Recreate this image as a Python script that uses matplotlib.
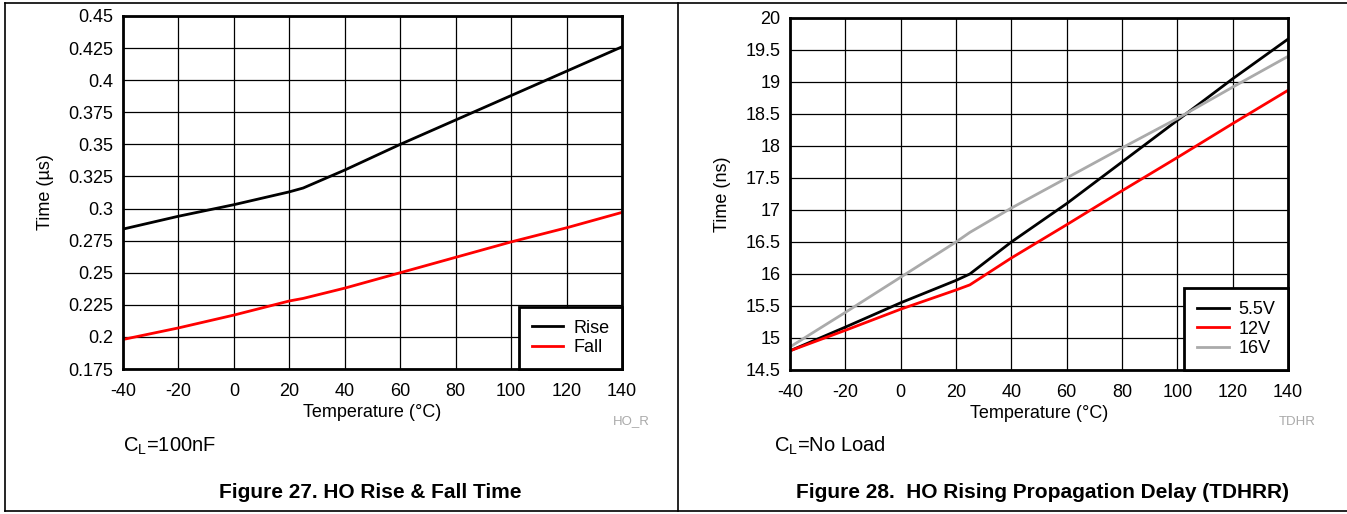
import matplotlib
matplotlib.use("Agg")
import matplotlib.pyplot as plt
from matplotlib.lines import Line2D

plt.rcParams['font.family'] = ['Liberation Sans', 'DejaVu Sans']

# ---- data: Figure 27 (rise / fall time, us) ----
temp = [-40, -20, 0, 20, 25, 40, 60, 80, 100, 120, 140]
rise = [0.284, 0.294, 0.303, 0.313, 0.316, 0.330, 0.350, 0.369, 0.388, 0.407, 0.426]
fall = [0.198, 0.207, 0.217, 0.228, 0.230, 0.238, 0.250, 0.262, 0.274, 0.285, 0.297]

# ---- data: Figure 28 (propagation delay, ns) ----
v55 = [14.80, 15.17, 15.55, 15.90, 16.00, 16.50, 17.10, 17.75, 18.40, 19.05, 19.67]
v12 = [14.80, 15.12, 15.45, 15.75, 15.83, 16.25, 16.77, 17.30, 17.82, 18.35, 18.87]
v16 = [14.86, 15.40, 15.95, 16.50, 16.65, 17.03, 17.50, 17.97, 18.43, 18.92, 19.40]

xticks = [-40, -20, 0, 20, 40, 60, 80, 100, 120, 140]
yticks_l = [0.175, 0.2, 0.225, 0.25, 0.275, 0.3, 0.325, 0.35, 0.375, 0.4, 0.425, 0.45]
yticks_r = [14.5, 15, 15.5, 16, 16.5, 17, 17.5, 18, 18.5, 19, 19.5, 20]

W, H = 1347, 514
FS = 13
fig = plt.figure(figsize=(W / 100, H / 100), dpi=100)


def add_axes(x0, y0, x1, y1):
    return fig.add_axes([x0 / W, 1 - y1 / H, (x1 - x0) / W, (y1 - y0) / H])


def style(ax, yticks, ylabel):
    ax.set_xlim(-40, 140)
    ax.set_ylim(yticks[0], yticks[-1])
    ax.set_xticks(xticks)
    ax.set_xticklabels([str(t) for t in xticks])
    ax.set_yticks(yticks)
    ax.set_yticklabels([f"{t:g}" for t in yticks])
    ax.tick_params(length=0, labelsize=FS)
    ax.tick_params(axis='x', pad=10)
    ax.tick_params(axis='y', pad=7)
    ax.grid(True, color='black', linewidth=0.9)
    ax.set_axisbelow(True)
    for s in ax.spines.values():
        s.set_linewidth(2)
    ax.set_xlabel("Temperature (°C)", fontsize=FS, labelpad=3)
    ax.set_ylabel(ylabel, fontsize=FS, labelpad=10)


def legend(ax):
    leg = ax.legend(loc='lower right', fontsize=FS, fancybox=False, edgecolor='black',
                    framealpha=1, borderaxespad=0, handlelength=1.75, handletextpad=0.55,
                    borderpad=0.7, labelspacing=0.15)
    leg.get_frame().set_linewidth(2)


# ---- left panel ----
ax1 = add_axes(123, 16, 622, 369)
ax1.plot(temp, rise, color='black', lw=2, label='Rise')
ax1.plot(temp, fall, color='#ff0000', lw=2, label='Fall')
style(ax1, yticks_l, "Time (µs)")
legend(ax1)

# ---- right panel ----
ax2 = add_axes(790, 18, 1288, 370)
ax2.plot(temp, v55, color='black', lw=2, label='5.5V')
ax2.plot(temp, v12, color='#ff0000', lw=2, label='12V')
ax2.plot(temp, v16, color='#aaaaaa', lw=2, label='16V')
style(ax2, yticks_r, "Time (ns)")
legend(ax2)

# ---- annotations ----
fig.text(650 / W, 1 - 421 / H, "HO_R", color='#aaaaaa', fontsize=9.5, ha='right', va='center')
fig.text(1316 / W, 1 - 422 / H, "TDHR", color='#aaaaaa', fontsize=9.5, ha='right', va='center')
fig.text(123 / W, 1 - 446 / H, "C$_\\mathregular{L}$=100nF", fontsize=14.5, ha='left', va='center')
fig.text(774 / W, 1 - 446 / H, "C$_\\mathregular{L}$=No Load", fontsize=14.5, ha='left', va='center')
fig.text(370 / W, 1 - 492 / H, "Figure 27. HO Rise & Fall Time", fontsize=15,
         fontweight='bold', ha='center', va='center')
fig.text(1043 / W, 1 - 492 / H, "Figure 28.  HO Rising Propagation Delay (TDHRR)", fontsize=15,
         fontweight='bold', ha='center', va='center')

# ---- outer frame lines ----
for y in (3, 511):
    fig.add_artist(Line2D([5 / W, 1], [1 - y / H, 1 - y / H], color='black', lw=1.2))
for x in (5, 678):
    fig.add_artist(Line2D([x / W, x / W], [1 - 3 / H, 1 - 511 / H], color='black', lw=1.2))

fig.savefig("out.png", dpi=100)
